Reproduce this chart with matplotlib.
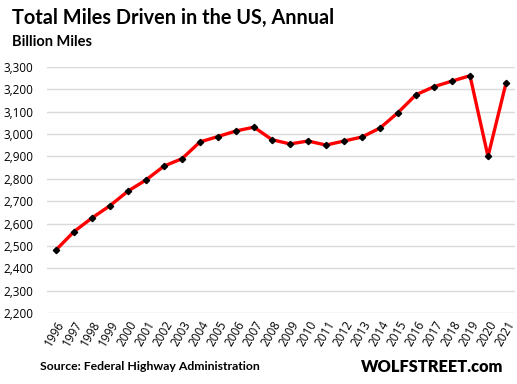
import matplotlib
matplotlib.use("Agg")
import matplotlib.pyplot as plt
from matplotlib.ticker import FuncFormatter

years = list(range(1996, 2022))
miles = [2482, 2564, 2625, 2680, 2745, 2795, 2857, 2890, 2965, 2989, 3014, 3031,
         2975, 2956, 2969, 2951, 2969, 2987, 3027, 3096, 3176, 3212, 3237, 3261,
         2900, 3228]
yticks = list(range(2200, 3301, 100))

plt.rcParams['font.family'] = ['Lato', 'DejaVu Sans']

fig = plt.figure(figsize=(5.17, 3.84), dpi=100)
ax = fig.add_axes([47/517, 1-313/384, (515-47)/517, (313-67)/384])

ax.plot(years, miles, color='#ff0000', lw=2.4, marker='D', ms=3.2,
        mfc='black', mec='black', zorder=3)
ax.set_xlim(1995.5, 2021.5)
ax.set_ylim(2200, 3300)
ax.set_yticks(yticks)
ax.yaxis.set_major_formatter(FuncFormatter(lambda v, p: f"{int(v):,}"))
ax.set_xticks(years)
ax.set_xticklabels([str(y) for y in years], rotation=60, ha='right',
                   rotation_mode='anchor', fontsize=8.5, family=['Open Sans'])
ax.tick_params(axis='y', labelsize=8.5, length=0, pad=10)
for lab in ax.get_yticklabels():
    lab.set_family(['Open Sans'])
ax.tick_params(axis='x', length=0, pad=4)
ax.grid(axis='y', color='#d9d9d9', lw=1)
ax.set_axisbelow(True)
for s in ax.spines.values():
    s.set_visible(False)

fig.text(12/517, 1-18/384, "Total Miles Driven in the US, Annual", fontsize=14.3,
         fontweight='bold', va='center', ha='left')
fig.text(12/517, 1-42/384, "Billion Miles", fontsize=10.5,
         fontweight='bold', va='center', ha='left')
fig.text(40/517, 1-367/384, "Source: Federal Highway Administration", fontsize=8.8,
         fontweight='bold', va='center', ha='left')
fig.text(503/517, 1-367/384, "WOLFSTREET.com", fontsize=11.8,
         fontweight='heavy', va='center', ha='right')

fig.savefig("out.png", dpi=100)
